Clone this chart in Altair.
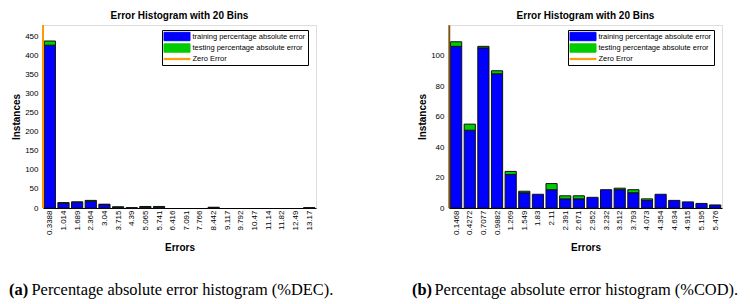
import altair as alt
import pandas as pd

TITLE = "Error Histogram with 20 Bins"
SERIES = ["training percentage absolute error", "testing percentage absolute error", "Zero Error"]
COLORS = ["#0000FF", "#00CC00", "#FF9900"]

# Panel (a): %DEC
dec_centers = [0.3388, 1.014, 1.689, 2.364, 3.04, 3.715, 4.39, 5.065, 5.741, 6.416,
               7.091, 7.766, 8.442, 9.117, 9.792, 10.47, 11.14, 11.82, 12.49, 13.17]
dec_train = [427, 13, 15, 18, 9, 2, 1, 2, 2, 0, 0, 0, 1, 0, 0, 0, 0, 0, 0, 1]
dec_test = [11, 1, 1, 2, 1, 1, 0, 2, 2, 0, 0, 0, 1, 0, 0, 0, 0, 0, 0, 0]
dec_yticks = [0, 50, 100, 150, 200, 250, 300, 350, 400, 450]
dec_ymax = 480

# Panel (b): %COD
cod_centers = [0.1468, 0.4272, 0.7077, 0.9882, 1.269, 1.549, 1.83, 2.11, 2.391, 2.671,
               2.952, 3.232, 3.512, 3.793, 4.073, 4.354, 4.634, 4.915, 5.195, 5.476]
cod_train = [106, 51, 105, 88, 22, 10, 9, 12, 6, 6, 7, 12, 12, 10, 5, 9, 5, 4, 3, 2]
cod_test = [3, 4, 1, 2, 2, 1, 0, 4, 2, 2, 0, 0, 1, 2, 1, 0, 0, 0, 0, 0]
cod_yticks = [0, 20, 40, 60, 80, 100]
cod_ymax = 120

captions_tag = ["(a)", "(b)"]
captions_text = ["Percentage absolute error histogram (%DEC).",
                 "Percentage absolute error histogram (%COD)."]

W, H = 273, 183
SANS = "Liberation Sans"
SERIF = "Liberation Serif"

color_scale = alt.Scale(domain=SERIES, range=COLORS)


def panel(centers, train, test, ymax, yticks, tag, text, tag_x, left_panel):
    n = len(centers)
    w = (centers[-1] - centers[0]) / (n - 1)
    rows = []
    for c, tr, te in zip(centers, train, test):
        if tr > 0:
            rows.append({"x0": c - 0.41 * w, "x1": c + 0.41 * w, "y0": 0, "y1": tr, "series": SERIES[0]})
        if te > 0:
            rows.append({"x0": c - 0.41 * w, "x1": c + 0.41 * w, "y0": tr, "y1": tr + te, "series": SERIES[1]})
    df = pd.DataFrame(rows)
    xdom = [min(0.0, centers[0] - w / 2), centers[-1] + w / 2]

    xscale = alt.Scale(domain=xdom, nice=False, zero=False)
    yscale = alt.Scale(domain=[0, ymax], nice=False)

    xaxis = alt.Axis(values=centers, format=".4~r", labelAngle=-90, labelFontSize=8,
                     labelFont=SANS, labelPadding=2, ticks=False, grid=False,
                     domainColor="black", labelOverlap=False, labelFlush=False, labelBound=False,
                     title="Errors", titleFont=SANS, titleFontSize=10, titleFontWeight="bold",
                     titlePadding=8, labelColor="black", titleColor="black")
    yaxis = alt.Axis(values=yticks, labelFontSize=8, labelFont=SANS, labelPadding=5,
                     ticks=False, grid=False, domain=not left_panel, domainColor="#555555",
                     domainWidth=1.5, zindex=1,
                     title="Instances", titleFont=SANS, titleFontSize=10, titleFontWeight="bold",
                     titlePadding=3, labelColor="black", titleColor="black")

    legend = alt.Legend(
        title=None, orient="none", legendX=W - 9 - 145, legendY=5,
        strokeColor="black", fillColor="white", padding=2, rowPadding=-1.5,
        labelFont=SANS, labelFontSize=7.5, labelOffset=11, labelColor="black",
        symbolSize=64, symbolStrokeWidth=1, symbolOffset=8.5,
        symbolType={"expr": "datum.value == 'Zero Error' ? 'M-3.25,-0.15H3.25V0.15H-3.25Z' : 'M-3.25,-1.05H3.25V1.05H-3.25Z'"},
        symbolStrokeColor={"expr": "datum.value == 'Zero Error' ? '#FF9900' : 'black'"},
        symbolOpacity=1,
    )

    bars = alt.Chart(df).mark_bar(stroke="#111111", strokeWidth=1).encode(
        x=alt.X("x0:Q", scale=xscale, axis=xaxis),
        x2="x1:Q",
        y=alt.Y("y0:Q", scale=yscale, axis=yaxis),
        y2="y1:Q",
        color=alt.Color("series:N", scale=color_scale, legend=legend),
    )
    zero = alt.Chart(pd.DataFrame({"x0": [0.0], "series": [SERIES[2]]})).mark_rule(
        strokeWidth=2).encode(
        x=alt.X("x0:Q", scale=xscale, axis=xaxis),
        color=alt.Color("series:N", scale=color_scale, legend=legend),
    )
    cap_df = pd.DataFrame({"tag": [tag], "text": [text]})
    cap_tag = alt.Chart(cap_df).mark_text(align="left", baseline="alphabetic", font=SERIF,
                                          fontSize=16.4, fontWeight="bold", color="black").encode(
        text="tag:N", x=alt.value(tag_x), y=alt.value(H + 87))
    cap_text = alt.Chart(cap_df).mark_text(align="left", baseline="alphabetic", font=SERIF,
                                           fontSize=16.4, color="black").encode(
        text="text:N", x=alt.value(tag_x + 22.5), y=alt.value(H + 87))

    return alt.layer(bars, zero, cap_tag, cap_text).properties(
        width=W, height=H,
        title=alt.TitleParams(TITLE, font=SANS, fontSize=10, fontWeight="bold",
                              anchor="middle", offset=3, color="black"),
    )


pa = panel(dec_centers, dec_train, dec_test, dec_ymax, dec_yticks,
           captions_tag[0], captions_text[0], -34, True)
pb = panel(cod_centers, cod_train, cod_test, cod_ymax, cod_yticks,
           captions_tag[1], captions_text[1], -37, False)

chart = alt.hconcat(pa, pb, spacing=133, bounds="flush").resolve_scale(
    color="independent"
).properties(padding={"top": 2, "left": 0, "right": 0, "bottom": 0}
).configure_view(stroke=None).configure(background="white")

chart.save("out.html", embed_options={"renderer": "svg", "actions": False})
